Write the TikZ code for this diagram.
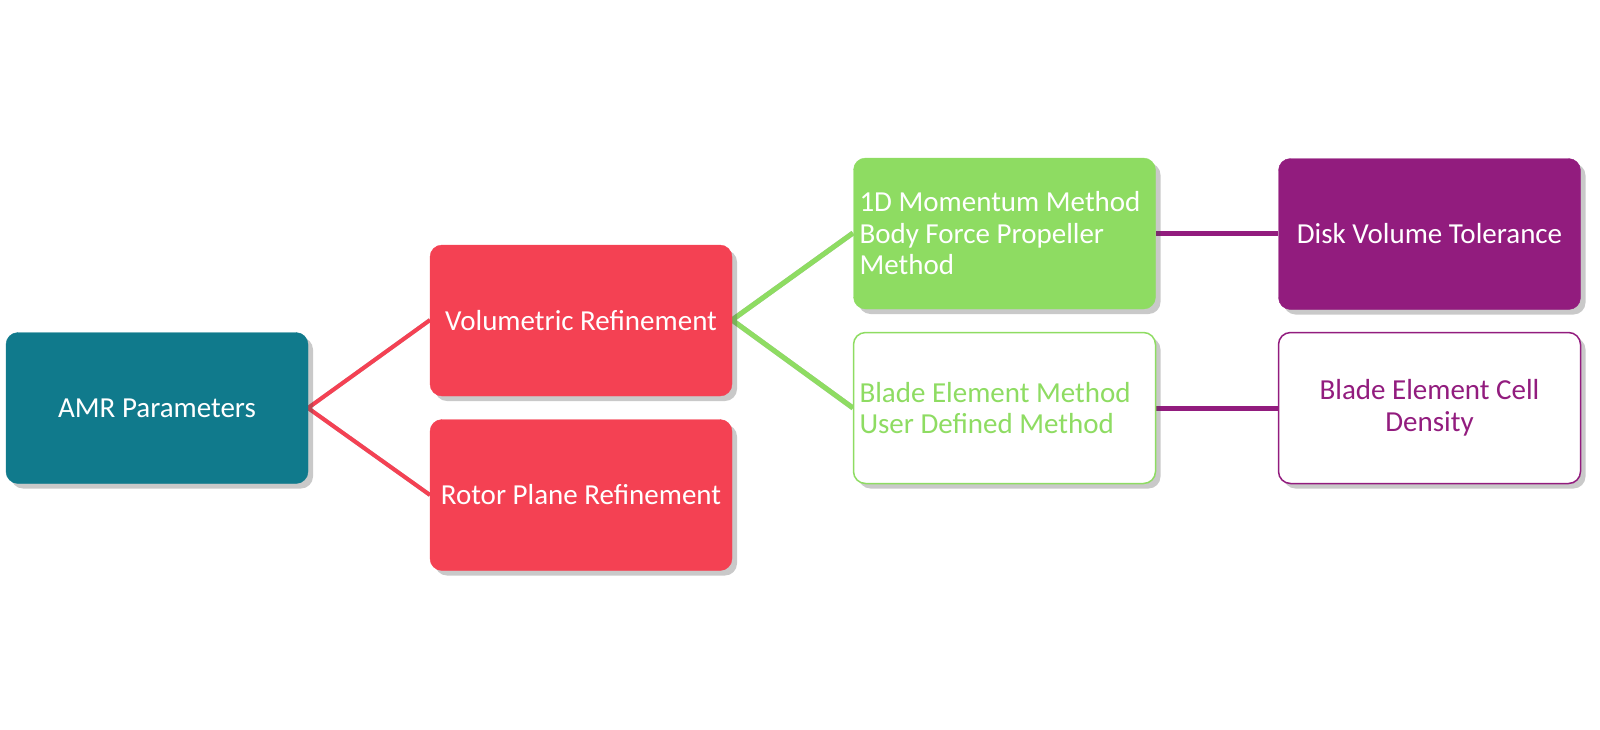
\documentclass[tikz,border=0pt]{standalone}
\usepackage{fontspec}
\setmainfont{Carlito}
\usetikzlibrary{shadows}
\definecolor{cteal}{RGB}{16,122,140}
\definecolor{cred}{RGB}{244,65,83}
\definecolor{cgreen}{RGB}{142,220,98}
\definecolor{cpurple}{RGB}{146,28,126}
\tikzset{
  box/.style={rounded corners=12pt, minimum width=302pt, minimum height=151pt,
    inner sep=0pt, font=\fontsize{29}{31.5}\selectfont,
    drop shadow={shadow xshift=5pt, shadow yshift=-5pt, opacity=0.3, fill=black!70}},
  filledbox/.style={box, fill=#1, draw=#1, text=white, align=center},
  outlinebox/.style={box, fill=white, draw=#1, line width=1.5pt, text=#1},
  leftbox/.style={text width=290pt, align=flush left},
  link/.style={line width=#1},
  shadowlink/.style={line width=#1, draw=black!25},
}
\begin{document}
\begin{tikzpicture}[x=1pt,y=-1pt]
\useasboundingbox (0,0) rectangle (1600,729);
% connector end points
\coordinate (amrE) at (308,408);
\coordinate (volW) at (430,320);
\coordinate (rotW) at (430,495);
\coordinate (volE) at (732,320);
\coordinate (g1W) at (853,233);
\coordinate (g2W) at (853,408);
\coordinate (g1E) at (1156,233);
\coordinate (g2E) at (1156,408);
\coordinate (p1W) at (1278,233);
\coordinate (p2W) at (1278,408);
\begin{scope}[shift={(5,5)}]
\draw[shadowlink=4pt] (volW) -- (amrE) -- (rotW);
\draw[shadowlink=5pt] (g1W) -- (volE) -- (g2W);
\draw[shadowlink=5pt] (g1E) -- (p1W);
\draw[shadowlink=5pt] (g2E) -- (p2W);
\end{scope}
\draw[cred, link=4pt, line join=miter] (volW) -- (amrE) -- (rotW);
\draw[cgreen, link=5pt, line join=miter] (g1W) -- (volE) -- (g2W);
\draw[cpurple, link=5pt] (g1E) -- (p1W);
\draw[cpurple, link=5pt] (g2E) -- (p2W);
% boxes
\node[filledbox=cteal] (amr) at (157,408) {AMR Parameters};
\node[filledbox=cred] (vol) at (581,320.5) {Volumetric Refinement};
\node[filledbox=cred] (rot) at (581,495) {Rotor Plane Refinement};
\node[filledbox=cgreen, leftbox, inner xsep=6pt] (g1) at (1004.5,233.5) {1D Momentum Method\\Body Force Propeller\\Method};
\node[outlinebox=cgreen, leftbox, inner xsep=6pt] (g2) at (1004.5,408) {Blade Element Method\\User Defined Method};
\node[filledbox=cpurple] (p1) at (1429.5,234) {Disk Volume Tolerance};
\node[outlinebox=cpurple, align=center] (p2) at (1429.5,408) {Blade Element Cell\\Density};
\end{tikzpicture}
\end{document}
